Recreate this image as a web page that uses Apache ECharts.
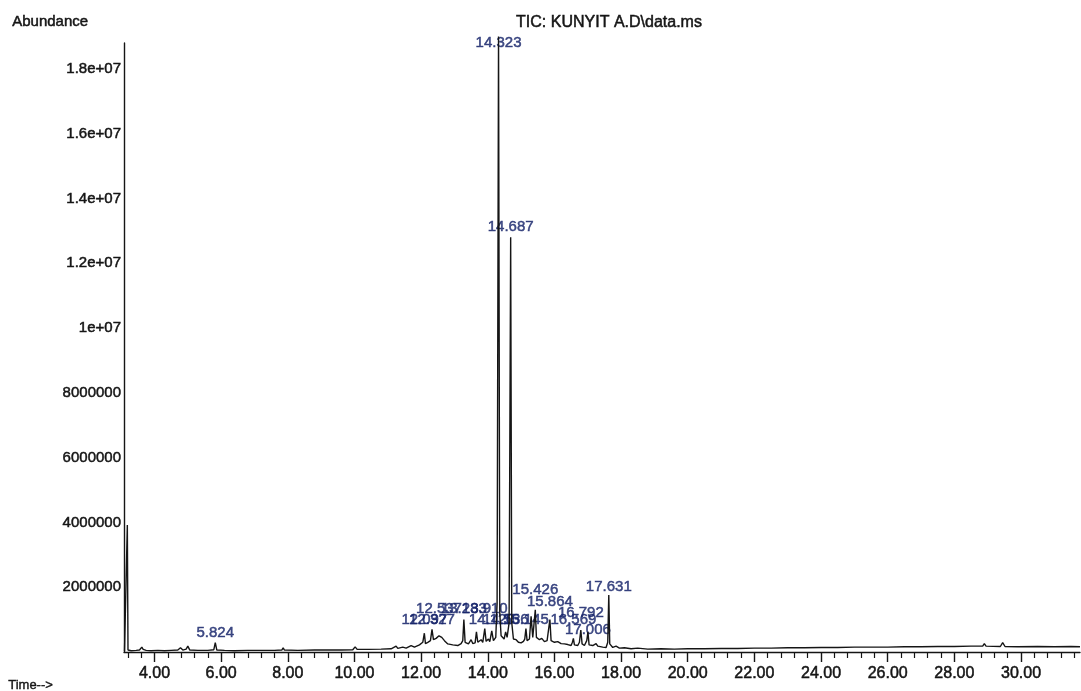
<!DOCTYPE html>
<html>
<head>
<meta charset="utf-8">
<script src="https://cdn.jsdelivr.net/npm/echarts@6/dist/echarts.min.js"></script>
<style>
html,body{margin:0;padding:0;background:#fff;}
#chart{width:1081px;height:691px;}
</style>
</head>
<body>
<div id="chart"></div>
<script>
// Retention time (min) of each trace point
const rtMin = [
  3.10, 3.185, 3.205, 3.30, 3.45, 3.55, 3.62, 3.66, 3.70, 3.75, 3.90, 4.10, 4.30, 4.50, 4.70, 4.78, 4.85, 4.95, 5.00, 5.06,
  5.30, 5.60, 5.78, 5.824, 5.87, 6.10, 6.40, 6.80, 7.20, 7.60, 7.82, 7.86, 7.90, 8.30, 8.80, 9.20, 9.60, 9.95, 10.02, 10.08,
  10.40, 10.80, 11.10, 11.25, 11.30, 11.45, 11.55, 11.70, 11.80, 11.95, 12.05, 12.097, 12.13, 12.20, 12.28, 12.327, 12.37, 12.45, 12.537, 12.62,
  12.70, 12.80, 12.95, 13.10, 13.20, 13.25, 13.283, 13.32, 13.42, 13.50, 13.55, 13.62, 13.66, 13.70, 13.80, 13.85, 13.910, 13.95, 14.02, 14.06,
  14.120, 14.17, 14.24, 14.28, 14.323, 14.36, 14.40, 14.45, 14.49, 14.536, 14.58, 14.64, 14.687, 14.72, 14.77, 14.85, 14.92, 15.00, 15.07, 15.11,
  15.145, 15.18, 15.25, 15.30, 15.35, 15.39, 15.426, 15.46, 15.55, 15.62, 15.70, 15.78, 15.82, 15.864, 15.90, 16.00, 16.10, 16.20, 16.30, 16.40,
  16.50, 16.54, 16.569, 16.60, 16.70, 16.75, 16.792, 16.83, 16.90, 16.97, 17.006, 17.04, 17.15, 17.25, 17.30, 17.45, 17.55, 17.60, 17.631, 17.66,
  17.75, 17.85, 17.95, 18.10, 18.30, 18.50, 18.80, 19.20, 19.60, 20.00, 20.50, 21.00, 21.50, 22.00, 22.50, 23.00, 23.50, 24.00, 24.50, 25.00,
  25.50, 26.00, 26.50, 27.00, 27.50, 28.00, 28.50, 28.85, 28.90, 28.95, 29.38, 29.45, 29.52, 29.90, 30.50, 31.00, 31.50, 31.77
];
// Total ion current abundance at each trace point
const abundance = [
  30000, 3920000, 60000, 40000, 50000, 60000, 150000, 80000, 130000, 50000, 40000, 50000, 40000, 50000, 60000, 130000, 60000, 90000, 180000, 60000,
  50000, 50000, 70000, 290000, 60000, 50000, 40000, 50000, 50000, 50000, 60000, 130000, 60000, 50000, 60000, 60000, 60000, 70000, 160000, 80000,
  80000, 90000, 100000, 180000, 110000, 150000, 120000, 200000, 150000, 220000, 300000, 580000, 260000, 300000, 350000, 700000, 380000, 420000, 500000, 450000,
  350000, 250000, 220000, 200000, 260000, 350000, 1000000, 300000, 250000, 380000, 260000, 280000, 620000, 300000, 380000, 300000, 720000, 330000, 400000, 320000,
  650000, 350000, 450000, 1500000, 19000000, 1200000, 500000, 560000, 400000, 620000, 450000, 900000, 12800000, 900000, 400000, 380000, 300000, 280000, 330000, 400000,
  720000, 350000, 400000, 1100000, 450000, 500000, 1300000, 450000, 380000, 420000, 320000, 350000, 400000, 1000000, 350000, 300000, 320000, 260000, 250000, 230000,
  200000, 300000, 420000, 220000, 200000, 300000, 680000, 250000, 200000, 350000, 620000, 220000, 200000, 260000, 180000, 150000, 140000, 300000, 1760000, 250000,
  140000, 180000, 120000, 130000, 100000, 120000, 90000, 100000, 90000, 100000, 100000, 110000, 110000, 120000, 120000, 130000, 130000, 140000, 140000, 150000,
  150000, 150000, 160000, 160000, 170000, 170000, 180000, 180000, 260000, 180000, 170000, 290000, 170000, 160000, 170000, 160000, 170000, 160000
];
// Peak annotations: retention-time text, time, and abundance level where the text sits
const peakLabels = ['5.824','12.097','12.327','12.537','13.283','13.910','14.120','14.323','14.536','14.687','15.145','15.426','15.864','16.569','16.792','17.006','17.631'];
const peakTimes  = [5.824, 12.097, 12.327, 12.537, 13.283, 13.910, 14.120, 14.323, 14.536, 14.687, 15.145, 15.426, 15.864, 16.569, 16.792, 17.006, 17.631];
const labelLevels = [590000, 990000, 990000, 1330000, 1330000, 1330000, 990000, 18800000, 990000, 13120000, 990000, 1910000, 1540000, 990000, 1200000, 680000, 2000000];
// Axis tick labels
const xTickValues = [4,6,8,10,12,14,16,18,20,22,24,26,28,30];
const yTickValues = [2000000,4000000,6000000,8000000,10000000,12000000,14000000,16000000,18000000];
const yTickLabels = ['2000000','4000000','6000000','8000000','1e+07','1.2e+07','1.4e+07','1.6e+07','1.8e+07'];

const X_MIN = 3.085, X_MAX = 31.77;
const minorTicks = [];
for (let k = 0; ; k++) {
  const v = Math.round((3.2 + 0.4 * k) * 100) / 100;
  if (v > X_MAX) break;
  if (xTickValues.indexOf(v) < 0) minorTicks.push(v);
}

const chart = echarts.init(document.getElementById('chart'), null, {renderer: 'canvas'});
const FONT = '"Liberation Sans", Arial, sans-serif';
const INK = '#151515';
const NAVY = '#17246a';
const trace = rtMin.map((t, i) => [t, abundance[i]]);
const labelData = peakTimes.map((t, i) => ({value: [t, labelLevels[i]], name: peakLabels[i]}));

chart.setOption({
  animation: false,
  backgroundColor: '#ffffff',
  title: {
    text: 'TIC: KUNYIT A.D\\data.ms',
    left: 604, top: 10, textAlign: 'center',
    textStyle: {fontFamily: FONT, fontSize: 16, fontWeight: 'normal', color: INK,
      textBorderColor: INK, textBorderWidth: 0.5}
  },
  graphic: [
    {type: 'text', left: 12, top: 14, style: {text: 'Abundance', font: '15px ' + FONT, fill: INK, stroke: INK, lineWidth: 0.5}},
    {type: 'text', left: 8, top: 679, style: {text: 'Time-->', font: '13px ' + FONT, fill: INK, stroke: INK, lineWidth: 0.4}}
  ],
  grid: {left: 124, right: 1, top: 43, bottom: 39, containLabel: false},
  xAxis: [
    {
      type: 'value', min: X_MIN, max: X_MAX, position: 'bottom',
      axisLine: {show: true, lineStyle: {color: INK, width: 1.4}},
      axisTick: {show: true, length: 10, customValues: xTickValues, lineStyle: {color: INK, width: 1.4}},
      axisLabel: {show: true, customValues: xTickValues, margin: 14, color: INK, fontFamily: FONT, fontSize: 16,
        textBorderColor: INK, textBorderWidth: 0.5,
        formatter: v => v.toFixed(2)},
      splitLine: {show: false}
    },
    {
      type: 'value', min: X_MIN, max: X_MAX, position: 'bottom', gridIndex: 0,
      axisLine: {show: false},
      axisTick: {show: true, length: 6, customValues: minorTicks, lineStyle: {color: INK, width: 1.2}},
      axisLabel: {show: false},
      splitLine: {show: false}
    }
  ],
  yAxis: {
    type: 'value', min: 0, max: 18800000,
    axisLine: {show: true, lineStyle: {color: INK, width: 1.4}},
    axisTick: {show: false},
    axisLabel: {show: true, customValues: yTickValues, margin: 3, color: INK, fontFamily: FONT, fontSize: 15,
      textBorderColor: INK, textBorderWidth: 0.5,
      formatter: v => { const i = yTickValues.indexOf(v); return i >= 0 ? yTickLabels[i] : ''; }},
    splitLine: {show: false}
  },
  series: [
    {
      type: 'scatter', xAxisIndex: 0, z: 2,
      data: labelData, symbolSize: 1,
      itemStyle: {color: 'rgba(0,0,0,0)'},
      label: {show: true, position: 'inside', formatter: p => p.name,
        color: NAVY, fontFamily: FONT, fontSize: 15, textBorderColor: NAVY, textBorderWidth: 0.5},
      silent: true
    },
    {
      type: 'line', xAxisIndex: 0, z: 3, clip: false,
      data: trace, showSymbol: false, symbol: 'none',
      lineStyle: {color: INK, width: 1.4}
    }
  ]
});
</script>
</body>
</html>
